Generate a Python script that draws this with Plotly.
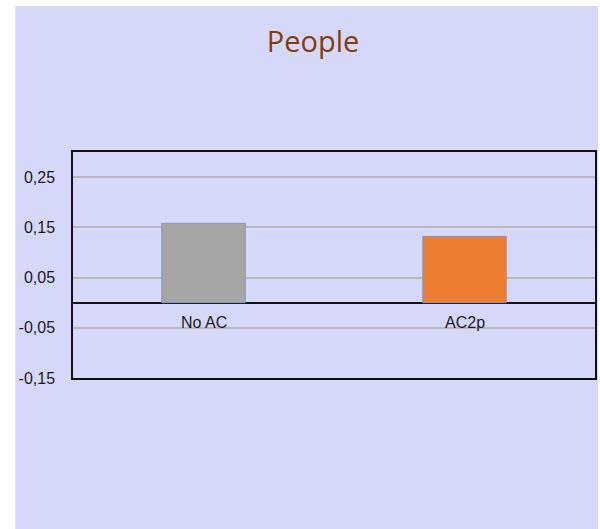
import plotly.graph_objects as go

categories = ["No AC", "AC2p"]
values = [0.158, 0.132]
bar_colors = ["#A5A5A5", "#ED7D31"]
tick_values = [-0.15, -0.05, 0.05, 0.15, 0.25]
tick_labels = ["-0,15", "-0,05", "0,05", "0,15", "0,25"]
title_text = "People"

W, H = 600, 529
L, R, T, B = 73, 3, 152, 151
pw = W - L - R
ph = H - T - B

fig = go.Figure()
fig.add_trace(go.Bar(
    x=categories, y=values,
    marker=dict(color=bar_colors, line=dict(color="#8E97BC", width=1)),
    hoverinfo="skip",
))

# lavender background panel (white strip on left and top)
fig.add_shape(type="rect", xref="paper", yref="paper",
              x0=(15 - L) / pw, x1=(W - L) / pw,
              y0=-B / ph, y1=(H - 6 - B) / ph,
              fillcolor="#D6D8FA", line=dict(width=0), layer="below")

for c in categories:
    fig.add_annotation(x=c, y=0, xref="x", yref="y", text=c, showarrow=False,
                       yanchor="top", yshift=-9,
                       font=dict(family="Liberation Sans, Arial", size=16, color="#1a1a1a"))

fig.update_layout(
    width=W, height=H,
    margin=dict(l=L, r=R, t=T, b=B, pad=0),
    paper_bgcolor="white",
    plot_bgcolor="rgba(0,0,0,0)",
    showlegend=False,
    bargap=0.68,
    title=dict(text=title_text, x=(314 - L) / pw, xref="paper", xanchor="center",
               y=1 - 42 / H, yref="container", yanchor="middle",
               font=dict(family="Open Sans", size=29, color="#843C0C")),
    xaxis=dict(range=[-0.5, 1.5], showticklabels=False, ticks="", showgrid=False,
               showline=True, mirror=True, linecolor="#111111", linewidth=1.5,
               zeroline=False),
    yaxis=dict(range=[-0.15, 0.30], tickvals=tick_values, ticktext=tick_labels,
               ticks="", ticklabelstandoff=13,
               tickfont=dict(family="Liberation Sans, Arial", size=16, color="#1a1a1a"),
               showgrid=True, gridcolor="#B8B8B8", gridwidth=1.5,
               zeroline=True, zerolinecolor="#111111", zerolinewidth=1.5,
               showline=True, mirror=True, linecolor="#111111", linewidth=1.5),
)

fig.write_html("out.html")
